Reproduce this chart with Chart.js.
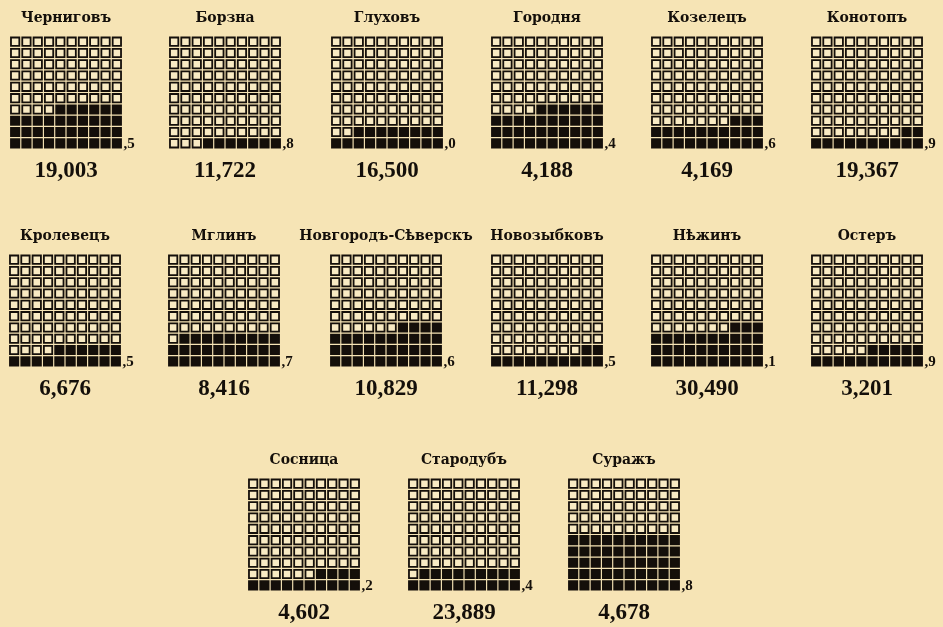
<!DOCTYPE html>
<html lang="ru">
<head>
<meta charset="utf-8">
<title>Уѣзды Черниговской губерніи</title>
<script src="https://cdn.jsdelivr.net/npm/chart.js@4/dist/chart.umd.min.js"></script>
<style>
  html, body { margin: 0; padding: 0; }
  body {
    width: 943px; height: 627px; overflow: hidden; position: relative;
    background: #f6e4b5;
  }
  .block { position: absolute; width: 220px; height: 186px; }
  .block canvas { display: block; }
</style>
</head>
<body>
<script>
// Уѣзды (district towns), in reading order
const towns = [
  'Черниговъ', 'Борзна', 'Глуховъ', 'Городня', 'Козелецъ', 'Конотопъ',
  'Кролевецъ', 'Мглинъ', 'Новгородъ-Сѣверскъ', 'Новозыбковъ', 'Нѣжинъ', 'Остеръ',
  'Сосница', 'Стародубъ', 'Суражъ'
];
// Share in percent: whole cells are drawn, the tenth is written beside the grid
const shares = [
  36.5, 7.8, 18.0, 36.4, 23.6, 12.9,
  16.5, 29.7, 34.6, 12.5, 33.1, 15.9,
  14.2, 19.4, 50.8
];
// Number written under each grid
const counts = [
  19003, 11722, 16500, 4188, 4169, 19367,
  6676, 8416, 10829, 11298, 30490, 3201,
  4602, 23889, 4678
];

// Where each grid sits on the sheet (left edge of the grid, top edge of the grid)
const gridLefts = [9, 168, 330, 490, 650, 810, 8, 167, 329, 490, 650, 810, 247, 407, 567];
const gridTops  = [37, 37, 37, 37, 37, 37, 255, 255, 255, 255, 255, 255, 479, 479, 479];

const INK = '#140f0a';
const PAPER = '#f8eac3';
const CANVAS_W = 220;
const GRID_W = 113;                 // ten cells across
const PITCH = GRID_W / 10;
const MARGIN_L = (CANVAS_W - GRID_W) / 2;
const MARGIN_R = CANVAS_W - GRID_W - MARGIN_L;

function cells(filled) {
  const on = [], off = [];
  for (let k = 0; k < 100; k++) {
    const row = Math.floor(k / 10);      // bottom row is 0
    const col = 9 - (k % 10);            // fill from the right
    (k < filled ? on : off).push({ x: col, y: row });
  }
  return { on, off };
}

// writes the tenth (",5") next to the bottom-right cell
const tenthLabel = {
  id: 'tenthLabel',
  afterDatasetsDraw(chart, args, opts) {
    const { ctx, scales } = chart;
    const xr = scales.x.getPixelForValue(9.5);
    const yb = scales.y.getPixelForValue(0) + 5;
    ctx.save();
    ctx.fillStyle = INK;
    ctx.font = 'bold 15px "Liberation Serif", serif';
    ctx.textAlign = 'left';
    ctx.textBaseline = 'alphabetic';
    ctx.fillText(opts.text, xr + 1, yb);
    ctx.restore();
  }
};

towns.forEach((name, i) => {
  const div = document.createElement('div');
  div.className = 'block';
  div.style.left = (gridLefts[i] - MARGIN_L) + 'px';
  div.style.top = (gridTops[i] - 37) + 'px';
  const cv = document.createElement('canvas');
  cv.width = CANVAS_W; cv.height = 186;
  div.appendChild(cv);
  document.body.appendChild(div);

  const v = shares[i];
  const whole = Math.floor(v + 1e-9);
  const tenth = Math.round(v * 10) % 10;
  const { on, off } = cells(whole);

  const pt = {
    pointStyle: 'rect',
    pointRadius: 5.9,
    pointHoverRadius: 5.9,
    pointBorderWidth: 1.8,
    pointBorderColor: INK,
    clip: false
  };

  new Chart(cv, {
    type: 'scatter',
    data: {
      datasets: [
        Object.assign({ label: 'пусто', data: off, pointBackgroundColor: PAPER }, pt),
        Object.assign({ label: 'заполнено', data: on, pointBackgroundColor: INK }, pt)
      ]
    },
    options: {
      responsive: false,
      animation: false,
      events: [],
      layout: { padding: 0, autoPadding: false },
      scales: {
        x: { type: 'linear', min: -0.5 - MARGIN_L / PITCH, max: 9.5 + MARGIN_R / PITCH, display: false },
        y: { type: 'linear', min: -0.5, max: 9.5, display: false }
      },
      plugins: {
        legend: { display: false },
        tooltip: { enabled: false },
        title: {
          display: true,
          text: name,
          color: INK,
          font: { family: '"DejaVu Serif Condensed", "DejaVu Serif", serif', weight: 'bold', size: 15.5, lineHeight: 18 / 15.5 },
          padding: { top: 9, bottom: 9 }
        },
        subtitle: {
          display: true,
          position: 'bottom',
          text: counts[i].toLocaleString('en-US'),
          color: INK,
          font: { family: '"Liberation Serif", serif', weight: 'bold', size: 23, lineHeight: 25 / 23 },
          padding: { top: 9.5, bottom: 2.5 }
        },
        tenthLabel: { text: ',' + tenth }
      }
    },
    plugins: [tenthLabel]
  });
});
</script>
</body>
</html>
